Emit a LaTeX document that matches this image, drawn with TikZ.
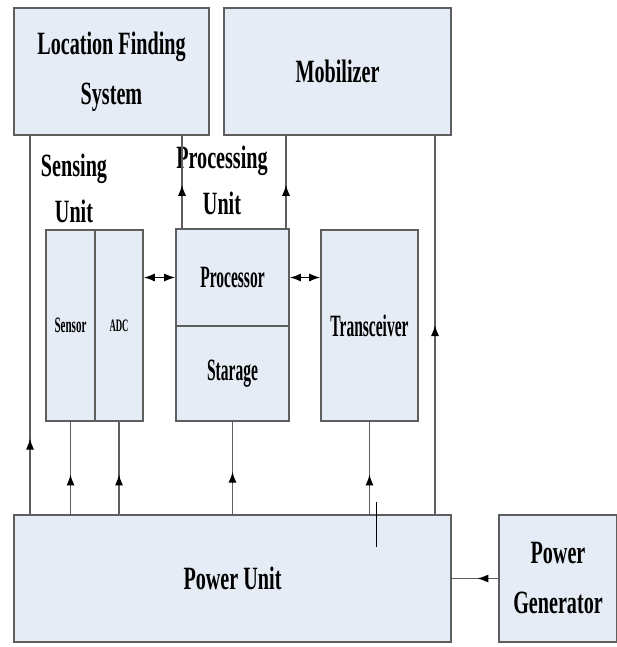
\documentclass[tikz,border=0pt]{standalone}
\usepackage{fontspec}
\setmainfont{Liberation Serif}[FakeStretch=0.62]
\newfontfamily\narrowfont{Liberation Serif}[FakeStretch=0.5]
\usetikzlibrary{arrows.meta,decorations.markings}
\definecolor{boxfill}{HTML}{E6ECF5}
\definecolor{boxline}{HTML}{5E5E5E}
\tikzset{
 blk/.style={draw=boxline,line width=1.6pt,fill=boxfill,inner sep=0pt,align=center,
   font=\bfseries\fontsize{32.5}{50}\selectfont},
 inner/.style={font=\narrowfont\bfseries\fontsize{31}{36}\selectfont},
 lbl/.style={inner sep=0pt,align=center,font=\bfseries\fontsize{32.5}{46}\selectfont},
 wire/.style={draw=boxline,line width=1.2pt},
 dtip/.tip={Latex[length=11pt,width=8pt,color=black]},
 midarr/.style={postaction={decorate},decoration={markings,
   mark=at position #1 with {\arrow{Latex[length=11pt,width=8pt,color=black]}}}}
}
\begin{document}
\begin{tikzpicture}[x=1pt,y=-1pt]
 \useasboundingbox (0,0) rectangle (617,647);
 \node (box loc) at (111.5,71.5) [blk,minimum width=195,minimum height=127] {Location Finding\\System};
 \node (box mob) at (337.5,71.5) [blk,minimum width=227,minimum height=127] {Mobilizer};
 \node (box sens) at (70.5,325.5) [blk,minimum width=49,minimum height=191,font=\narrowfont\bfseries\fontsize{22}{26}\selectfont] {Sensor};
 \node (box adc) at (119,325.5) [blk,minimum width=48,minimum height=191,font=\narrowfont\bfseries\fontsize{17.5}{20}\selectfont] {ADC};
 \node (box proc) at (232.5,277.5) [blk,inner,minimum width=113,minimum height=97] {Processor};
 \node (box stor) at (232.5,373.5) [blk,inner,minimum width=113,minimum height=95] {Starage};
 \node (box trx) at (369.5,325.5) [blk,inner,minimum width=97,minimum height=191] {Transceiver};
 \node (box pwr) at (232.5,578.5) [blk,minimum width=437,minimum height=127] {Power Unit};
 \node (box gen) at (558,578.5) [blk,minimum width=118,minimum height=127] {Power\\Generator};
 \node (lbl sense) at (74,188) [lbl] {Sensing\\Unit};
 \node (lbl proc) at (222,180) [lbl] {Processing\\Unit};
 \coordinate (x loc) at (30,0);
 \coordinate (x mob) at (435,0);
 \coordinate (x pl) at (182,0);
 \coordinate (x pm) at (286,0);
 \coordinate (tick top) at (376,502);
 \coordinate (tick bot) at (376,547);
 \draw[wire,midarr=0.2] (box pwr.north -| x loc) -- (box loc.south -| x loc);
 \draw[wire,midarr=0.5] (box pwr.north -| x mob) -- (box mob.south -| x mob);
 \draw[wire,midarr=0.47] (box proc.north -| x pl) -- (box loc.south -| x pl);
 \draw[wire,midarr=0.47] (box proc.north -| x pm) -- (box mob.south -| x pm);
 \draw[wire,midarr=0.43] (box pwr.north -| box sens) -- (box sens.south);
 \draw[wire,midarr=0.43] (box pwr.north -| box adc) -- (box adc.south);
 \draw[wire,midarr=0.46] (box pwr.north -| box stor) -- (box stor.south);
 \draw[wire,midarr=0.43] (box pwr.north -| box trx) -- (box trx.south);
 \draw[wire,draw=black,line width=1.5pt,dtip-dtip] (box adc.east |- box proc.west) -- (box proc.west);
 \draw[wire,draw=black,line width=1.5pt,dtip-dtip] (box proc.east) -- (box trx.west |- box proc.east);
 \draw[wire,midarr=0.45] (box gen.west) -- (box gen.west -| box pwr.east);
 \draw[line width=1pt] (tick top) -- (tick bot);
\end{tikzpicture}
\end{document}
